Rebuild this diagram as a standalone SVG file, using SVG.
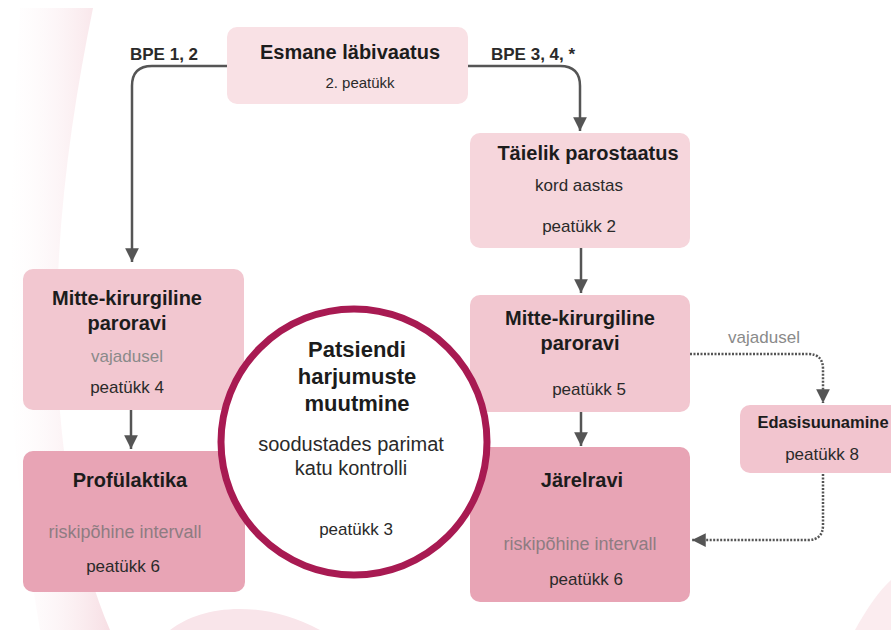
<svg xmlns="http://www.w3.org/2000/svg" width="891" height="630" viewBox="0 0 891 630">
<defs>
<style>
.t{font-family:"Liberation Sans",Arial,sans-serif;font-weight:bold;fill:#1c1c1c;text-anchor:middle}
.s{font-family:"Liberation Sans",Arial,sans-serif;fill:#2a2a2a;text-anchor:middle}
.g{font-family:"Liberation Sans",Arial,sans-serif;fill:#8a8a8a;text-anchor:middle}
.r{font-family:"Liberation Sans",Arial,sans-serif;fill:#8e7c82;text-anchor:middle}
.lb{font-family:"Liberation Sans",Arial,sans-serif;font-weight:bold;fill:#2a2a2a;font-size:17px}
.ln{fill:none;stroke:#555;stroke-width:2.5}
.dt{fill:none;stroke:#555;stroke-width:2.5;stroke-dasharray:2 1.5}
</style>
<marker id="ah" viewBox="0 0 10 10" refX="10" refY="5" markerWidth="5.5" markerHeight="5.5" markerUnits="strokeWidth" orient="auto">
<path d="M0,0 L10,5 L0,10 z" fill="#555"/>
</marker>
<linearGradient id="bg" x1="0" y1="0" x2="1" y2="0">
<stop offset="0" stop-color="#fdf4f6" stop-opacity="0"/>
<stop offset="1" stop-color="#f6dbe1" stop-opacity="1"/>
</linearGradient>
</defs>
<rect width="891" height="630" fill="#ffffff"/>
<g id="decor">
<path d="M20,8 L93,8 C70,120 52,250 58,380 C62,470 80,560 110,630 L40,630 C25,540 10,440 10,330 C10,200 15,100 20,8 Z" fill="url(#bg)" opacity="0.9"/>
<path d="M170,630 C200,606 260,598 320,630 Z" fill="#f9e5ea"/>
<path d="M855,630 C866,610 878,592 891,580 L891,630 Z" fill="#fbecef"/>
</g>
<g id="connectors">
<path class="ln" d="M227,66 H152 Q132,66 132,86 V262" marker-end="url(#ah)"/>
<path class="ln" d="M468,66 H560 Q580,66 580,86 V131" marker-end="url(#ah)"/>
<path class="ln" d="M581,248 V293" marker-end="url(#ah)"/>
<path class="ln" d="M131,410 V449" marker-end="url(#ah)"/>
<path class="ln" d="M581,412 V446" marker-end="url(#ah)"/>
<path class="dt" d="M690,354 H808 Q823,354 823,369 V403" marker-end="url(#ah)"/>
<path class="dt" d="M823,474 V525 Q823,540 808,540 H692" marker-end="url(#ah)"/>
<text class="lb" x="491" y="60">BPE 3, 4, *</text>
<text class="lb" x="130" y="60">BPE 1, 2</text>
<text class="g" x="764" y="343" font-size="17">vajadusel</text>
</g>
<g id="esmane">
<rect x="227" y="27" width="241" height="77" rx="10" fill="#f9e1e5"/>
<text class="t" x="350" y="59" font-size="20">Esmane läbivaatus</text>
<text class="s" x="360" y="88" font-size="15">2. peatükk</text>
</g>
<g id="taielik">
<rect x="470" y="133" width="220" height="115" rx="10" fill="#f6d6dc"/>
<text class="t" x="588" y="160" font-size="20">Täielik parostaatus</text>
<text class="s" x="579" y="191" font-size="17">kord aastas</text>
<text class="s" x="579" y="232" font-size="17">peatükk 2</text>
</g>
<g id="mitte-left">
<rect x="23" y="269" width="221" height="141" rx="10" fill="#f2c7d0"/>
<text class="t" x="127" y="305" font-size="20">Mitte-kirurgiline</text>
<text class="t" x="127" y="330" font-size="20">paroravi</text>
<text class="g" x="127" y="362" font-size="17">vajadusel</text>
<text class="s" x="127" y="393" font-size="17">peatükk 4</text>
</g>
<g id="profylaktika">
<rect x="23" y="451" width="222" height="141" rx="10" fill="#e8a4b5"/>
<text class="t" x="130" y="487" font-size="20">Profülaktika</text>
<text class="r" x="125" y="538" font-size="18">riskipõhine intervall</text>
<text class="s" x="123" y="572" font-size="17">peatükk 6</text>
</g>
<g id="mitte-right">
<rect x="470" y="295" width="220" height="117" rx="10" fill="#f2c7d0"/>
<text class="t" x="580" y="325" font-size="20">Mitte-kirurgiline</text>
<text class="t" x="580" y="350" font-size="20">paroravi</text>
<text class="s" x="589" y="395" font-size="17">peatükk 5</text>
</g>
<g id="jarelravi">
<rect x="470" y="447" width="220" height="155" rx="10" fill="#e8a4b5"/>
<text class="t" x="582" y="487" font-size="20">Järelravi</text>
<text class="r" x="580" y="550" font-size="18">riskipõhine intervall</text>
<text class="s" x="586" y="585" font-size="17">peatükk 6</text>
</g>
<g id="edasisuunamine">
<rect x="740" y="405" width="170" height="68" rx="10" fill="#f2c5cf"/>
<text class="t" x="823" y="428" font-size="16.5">Edasisuunamine</text>
<text class="s" x="822" y="460" font-size="17">peatükk 8</text>
</g>
<g id="patsiendi">
<circle cx="354" cy="442" r="133" fill="#ffffff" stroke="#a81a52" stroke-width="7"/>
<text class="t" x="357" y="357" font-size="22">Patsiendi</text>
<text class="t" x="357" y="384" font-size="22">harjumuste</text>
<text class="t" x="357" y="411" font-size="22">muutmine</text>
<text class="s" x="351" y="451" font-size="20">soodustades parimat</text>
<text class="s" x="351" y="475" font-size="20">katu kontrolli</text>
<text class="s" x="356" y="535" font-size="17">peatükk 3</text>
</g>
</svg>
